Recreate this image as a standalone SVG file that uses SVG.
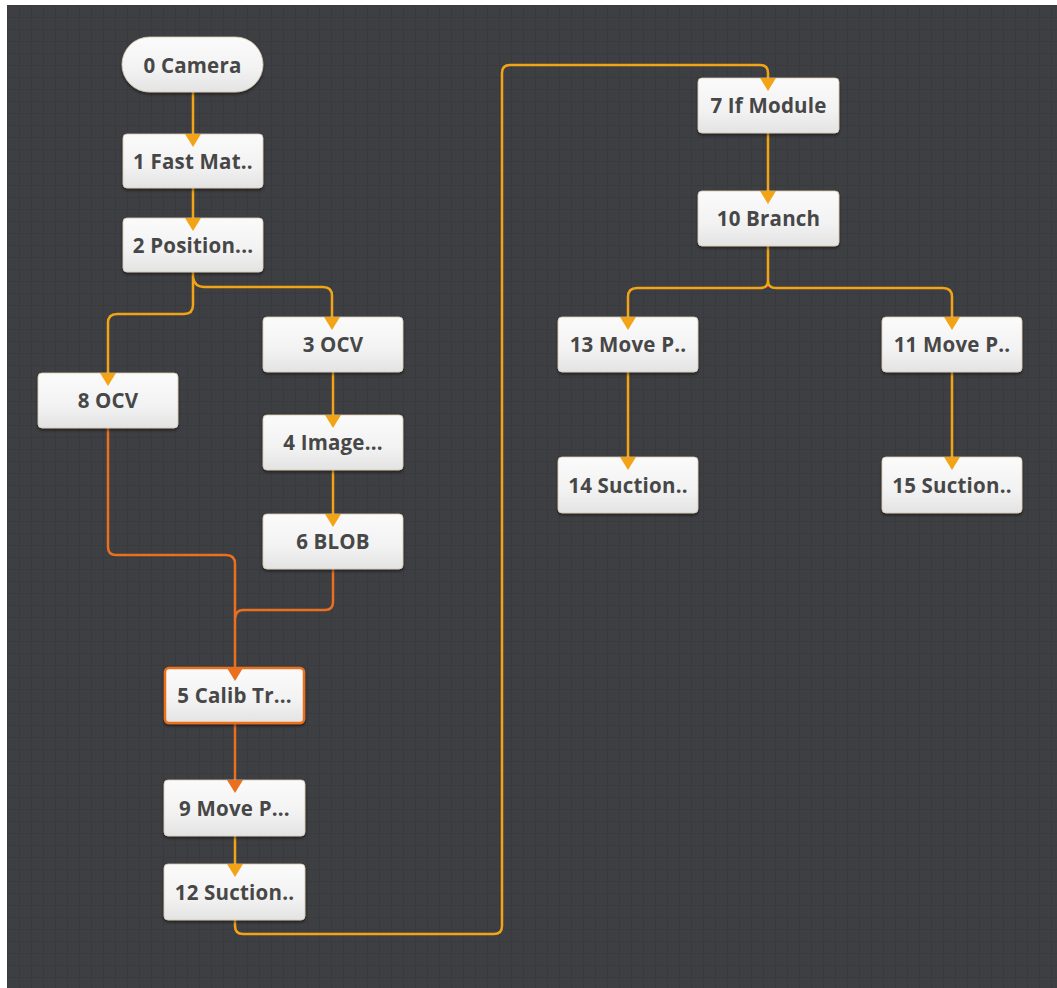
<svg xmlns="http://www.w3.org/2000/svg" width="1057" height="988" viewBox="0 0 1057 988">
  <defs>
    <pattern id="grid" width="12" height="12" patternUnits="userSpaceOnUse" x="7" y="5">
      <rect width="12" height="12" fill="#3e3f43"/>
      <path d="M0 0.5 H12 M0.5 0 V12" stroke="#393a3e" stroke-width="1"/>
    </pattern>
    <linearGradient id="nodeFill" x1="0" y1="0" x2="0" y2="1">
      <stop offset="0" stop-color="#fbfbfb"/>
      <stop offset="0.6" stop-color="#f2f2f2"/>
      <stop offset="1" stop-color="#e3e3e3"/>
    </linearGradient>
    <filter id="shadow" x="-10%" y="-10%" width="120%" height="130%">
      <feDropShadow dx="0" dy="2" stdDeviation="1.5" flood-color="#000000" flood-opacity="0.45"/>
    </filter>
  </defs>
  <style>
    .node rect { fill: url(#nodeFill); stroke: #d8c8b0; stroke-width: 0.8; filter: url(#shadow); }
    .node.sel rect { stroke: #ea6f1e; stroke-width: 2.5; }
    .node text { font-family: "Open Sans", "Noto Sans", sans-serif; font-weight: bold; font-size: 20.5px; letter-spacing: 0.2px; fill: #474747; text-anchor: middle; }
    .edge { fill: none; stroke: #f2a416; stroke-width: 2.5; stroke-linejoin: round; }
    .edge.hot { stroke: #ea6f1e; }
    .arr { fill: #f2a416; }
    .arr.hot { fill: #ea6f1e; }
  </style>
  <rect x="0" y="0" width="1057" height="988" fill="#ffffff"/>
  <rect x="7" y="5" width="1050" height="983" fill="url(#grid)"/>

  <g id="connectors">
    <path class="edge" d="M193 92 V136"/>
    <path class="edge" d="M193 188 V220"/>
    <path class="edge" d="M193 272 V305 Q193 314 184 314 H117 Q108 314 108 323 V375"/>
    <path class="edge" d="M193 278 Q195 287 204 287 H323 Q332 287 332 296 V319"/>
    <path class="edge" d="M333 372 V417"/>
    <path class="edge" d="M333 470 V516"/>
    <path class="edge hot" d="M108 428 V547 Q108 555 116 555 H226 Q235 555 235 564 V670"/>
    <path class="edge hot" d="M333 569 V602 Q333 610 325 610 H243 Q236 610 235 618"/>
    <path class="edge hot" d="M235 723 V782"/>
    <path class="edge" d="M235 836 V866"/>
    <path class="edge" d="M235 920 V926 Q235 934 243 934 H494 Q502 934 502 926 V73 Q502 65 510 65 H760 Q768 65 768 73 V80"/>
    <path class="edge" d="M768 133 V193"/>
    <path class="edge" d="M768 246 V281 Q768 288 760 288 H637 Q628 288 628 297 V319"/>
    <path class="edge" d="M768 281 Q768 288 776 288 H943 Q952 288 952 297 V319"/>
    <path class="edge" d="M628 372 V459"/>
    <path class="edge" d="M952 372 V459"/>
  </g>

  <g id="n0" class="node"><rect x="122" y="37" width="141" height="55" rx="27.5"/><text x="192.5" y="73">0 Camera</text></g>
  <g id="n1" class="node"><rect x="123" y="134" width="140" height="54" rx="4"/><text x="193" y="169">1 Fast Mat..</text></g>
  <g id="n2" class="node"><rect x="123" y="218" width="140" height="54" rx="4"/><text x="193" y="253">2 Position...</text></g>
  <g id="n3" class="node"><rect x="263" y="317" width="140" height="55" rx="4"/><text x="333" y="352">3 OCV</text></g>
  <g id="n8" class="node"><rect x="38" y="373" width="140" height="55" rx="4"/><text x="108" y="408">8 OCV</text></g>
  <g id="n4" class="node"><rect x="263" y="415" width="140" height="55" rx="4"/><text x="333" y="450">4 Image...</text></g>
  <g id="n6" class="node"><rect x="263" y="514" width="140" height="55" rx="4"/><text x="333" y="549">6 BLOB</text></g>
  <g id="n5" class="node sel"><rect x="165" y="668" width="139" height="55" rx="4"/><text x="234.5" y="703">5 Calib Tr...</text></g>
  <g id="n9" class="node"><rect x="164" y="780" width="141" height="56" rx="4"/><text x="234.5" y="816">9 Move P...</text></g>
  <g id="n12" class="node"><rect x="164" y="864" width="141" height="56" rx="4"/><text x="234.5" y="900">12 Suction..</text></g>
  <g id="n7" class="node"><rect x="698" y="78" width="141" height="55" rx="4"/><text x="768.5" y="113">7 If Module</text></g>
  <g id="n10" class="node"><rect x="698" y="191" width="141" height="55" rx="4"/><text x="768.5" y="226">10 Branch</text></g>
  <g id="n13" class="node"><rect x="558" y="317" width="140" height="55" rx="4"/><text x="628" y="352">13 Move P..</text></g>
  <g id="n11" class="node"><rect x="882" y="317" width="140" height="55" rx="4"/><text x="952" y="352">11 Move P..</text></g>
  <g id="n14" class="node"><rect x="558" y="457" width="140" height="56" rx="4"/><text x="628" y="493">14 Suction..</text></g>
  <g id="n15" class="node"><rect x="882" y="457" width="140" height="56" rx="4"/><text x="952" y="493">15 Suction..</text></g>

  <g id="arrowheads">
    <path class="arr" d="M185 134 H201 L193 147 Z"/>
    <path class="arr" d="M185 218 H201 L193 231 Z"/>
    <path class="arr" d="M324 317 H340 L332 330 Z"/>
    <path class="arr" d="M100 373 H116 L108 386 Z"/>
    <path class="arr" d="M325 415 H341 L333 428 Z"/>
    <path class="arr" d="M325 514 H341 L333 527 Z"/>
    <path class="arr hot" d="M227 668 H243 L235 681 Z"/>
    <path class="arr hot" d="M227 780 H243 L235 793 Z"/>
    <path class="arr" d="M227 864 H243 L235 877 Z"/>
    <path class="arr" d="M760 78 H776 L768 91 Z"/>
    <path class="arr" d="M760 191 H776 L768 204 Z"/>
    <path class="arr" d="M620 317 H636 L628 330 Z"/>
    <path class="arr" d="M944 317 H960 L952 330 Z"/>
    <path class="arr" d="M620 457 H636 L628 470 Z"/>
    <path class="arr" d="M944 457 H960 L952 470 Z"/>
  </g>
</svg>
